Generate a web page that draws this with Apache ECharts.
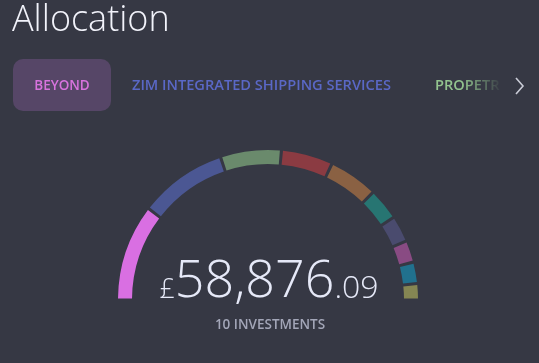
<!DOCTYPE html>
<html><head><meta charset="utf-8">
<script src="https://cdn.jsdelivr.net/npm/echarts@6/dist/echarts.min.js"></script>
<style>html,body{margin:0;padding:0;background:#363844;}#c{width:539px;height:363px;}</style>
</head><body><div id="c"></div>
<script>
const holdings = ['Beyond','Holding 2','Holding 3','Holding 4','Holding 5','Holding 6','Holding 7','Holding 8','Holding 9','Holding 10'];
const values = [12240, 11190, 7690, 6540, 6250, 4060, 3340, 2780, 2720, 2066];
const colors = ['#d96fe2','#4b5793','#6a8a6c','#8b3b42','#8a6143','#277572','#4a4b6e','#894b83','#21718e','#858653'];
const tabs = ['BEYOND','ZIM INTEGRATED SHIPPING SERVICES','PROPETR'];
const totalWhole = '58,876';
const totalFrac = '.09';
const countLabel = '10 INVESTMENTS';
const BG = '#363844';
const FONT = '"Open Sans", sans-serif';

const chart = echarts.init(document.getElementById('c'));
chart.setOption({
  backgroundColor: BG,
  animation: false,
  series: [{
    type: 'pie',
    center: [268, 300],
    radius: [136, 150],
    startAngle: 180,
    endAngle: 360,
    padAngle: 1.2,
    silent: true,
    label: {show: false},
    labelLine: {show: false},
    data: holdings.map((n, i) => ({name: n, value: values[i], itemStyle: {color: colors[i]}}))
  }],
  graphic: [
    {type:'text', x: 12, y: 21, style:{text:'Allocation', fill:'#f2f3fb', font:'300 36px ' + FONT, verticalAlign:'middle'}},
    {type:'rect', shape:{x:13, y:59, width:98, height:52, r:10}, style:{fill:'#564667'}},
    {type:'text', x: 62, y: 86, style:{text:tabs[0], fill:'#d873de', font:'600 13.5px ' + FONT, align:'center', verticalAlign:'middle'}},
    {type:'text', x: 132, y: 86, style:{text:tabs[1], fill:'#5a68c6', font:'600 14.6px ' + FONT, align:'left', verticalAlign:'middle'}},
    {type:'text', x: 435, y: 86, style:{text:tabs[2], fill:'#93c48f', font:'600 14.6px ' + FONT, align:'left', verticalAlign:'middle'}},
    {type:'rect', shape:{x:462, y:72, width:40, height:28}, style:{fill:new echarts.graphic.LinearGradient(0,0,1,0,[{offset:0,color:'rgba(54,56,68,0)'},{offset:1,color:'rgba(54,56,68,1)'}])}},
    {type:'polyline', shape:{points:[[516,78],[523,86],[516,94]]}, style:{stroke:'#c9cbd6', lineWidth:1.6, fill:null}},
    {type:'text', x: 269, y: 282, style:{
      text:'{c|£}{w|' + totalWhole + '}{f|' + totalFrac + '}',
      align:'center', verticalAlign:'middle',
      rich:{
        c:{fill:'#e6e9f8', font:'300 27px ' + FONT, verticalAlign:'bottom', padding:[0,0,4,0]},
        w:{fill:'#e6e9f8', font:'300 52px ' + FONT, verticalAlign:'bottom'},
        f:{fill:'#e6e9f8', font:'300 32px ' + FONT, verticalAlign:'bottom', padding:[0,0,3,0]}
      }
    }},
    {type:'text', x: 270, y: 325, style:{text:countLabel, fill:'#a3a6b8', font:'600 13.5px ' + FONT, align:'center', verticalAlign:'middle'}}
  ]
});
</script>
</body></html>
